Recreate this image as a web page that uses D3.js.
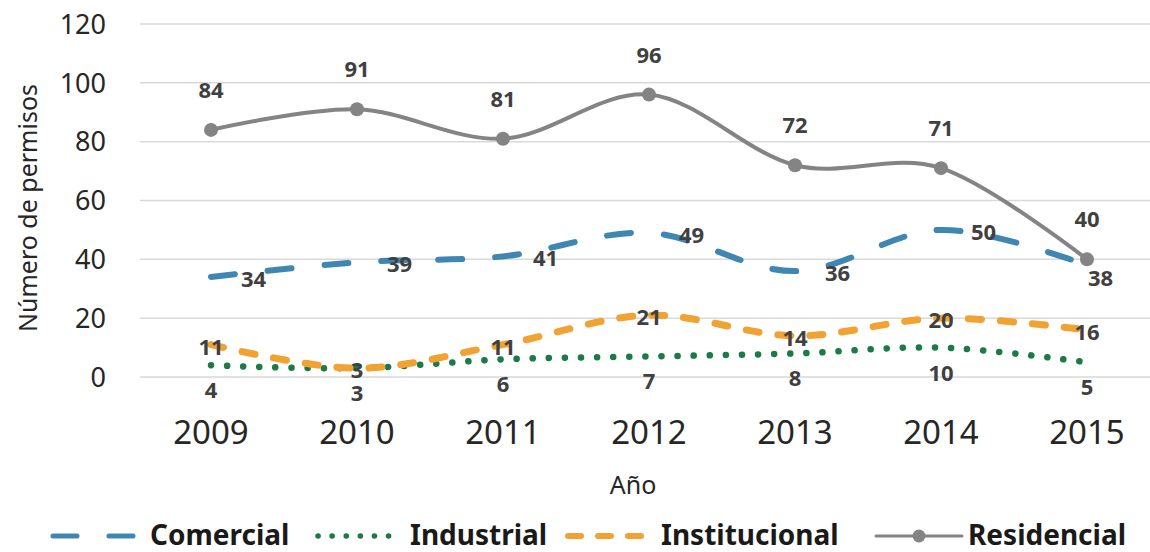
<!DOCTYPE html>
<html>
<head>
<meta charset="utf-8">
<script src="https://cdn.jsdelivr.net/npm/d3@7"></script>
<style>
  body { margin: 0; background: #fff; }
  svg { display: block; font-family: "Noto Sans", "Open Sans", sans-serif; }
</style>
</head>
<body>
<div id="chart"></div>
<script>
// data
const YEARS = ["2009", "2010", "2011", "2012", "2013", "2014", "2015"];
const COMERCIAL = [34, 39, 41, 49, 36, 50, 38];
const INDUSTRIAL = [4, 3, 6, 7, 8, 10, 5];
const INSTITUCIONAL = [11, 3, 11, 21, 14, 20, 16];
const RESIDENCIAL = [84, 91, 81, 96, 72, 71, 40];
const Y_TICKS = [0, 20, 40, 60, 80, 100, 120];

const WIDTH = 1150;
const HEIGHT = 552;

const SVG = d3.select("#chart")
  .append("svg")
    .attr("width", WIDTH)
    .attr("height", HEIGHT);

const X = d3.scalePoint()
  .domain(YEARS)
  .range([211, 1087]);

const Y = d3.scaleLinear()
  .domain([0, 120])
  .range([377, 24]);

// grid
SVG.selectAll(".grid")
  .data(Y_TICKS)
  .enter()
  .append("line")
    .attr("x1", 140)
    .attr("x2", WIDTH)
    .attr("y1", d => Y(d))
    .attr("y2", d => Y(d))
    .attr("stroke", "#d9d9d9")
    .attr("stroke-width", 1.5);

// y tick labels
SVG.selectAll(".ytick")
  .data(Y_TICKS)
  .enter()
  .append("text")
    .attr("x", 106)
    .attr("y", d => Y(d))
    .attr("dy", "0.36em")
    .attr("text-anchor", "end")
    .attr("font-size", 27)
    .attr("fill", "#262626")
    .text(d => d);

// x tick labels
SVG.selectAll(".xtick")
  .data(YEARS)
  .enter()
  .append("text")
    .attr("x", d => X(d))
    .attr("y", 444)
    .attr("text-anchor", "middle")
    .attr("font-size", 33)
    .attr("fill", "#262626")
    .text(d => d);

// axis titles
SVG.append("text")
  .attr("x", 633)
  .attr("y", 494)
  .attr("text-anchor", "middle")
  .attr("font-size", 25)
  .attr("fill", "#262626")
  .text("Año");

SVG.append("text")
  .attr("transform", "translate(37,208) rotate(-90)")
  .attr("text-anchor", "middle")
  .attr("font-size", 25)
  .attr("fill", "#262626")
  .text("Número de permisos");

const line = d3.line()
  .x((d, i) => X(YEARS[i]))
  .y(d => Y(d))
  .curve(d3.curveCatmullRom.alpha(0));

const SERIES = [
  {name: "Comercial", values: COMERCIAL, color: "#3f86b2", width: 6, dash: "24,33"},
  {name: "Industrial", values: INDUSTRIAL, color: "#1b7a46", width: 6.5, dash: "0.1,16"},
  {name: "Institucional", values: INSTITUCIONAL, color: "#f0a232", width: 7, dash: "13,19"},
  {name: "Residencial", values: RESIDENCIAL, color: "#848484", width: 4, dash: null}
];

SERIES.forEach(s => {
  SVG.append("path")
    .datum(s.values)
    .attr("d", line)
    .attr("fill", "none")
    .attr("stroke", s.color)
    .attr("stroke-width", s.width)
    .attr("stroke-linecap", "round")
    .attr("stroke-dasharray", s.dash);
});

// residencial markers
SVG.selectAll(".res-dot")
  .data(RESIDENCIAL)
  .enter()
  .append("circle")
    .attr("cx", (d, i) => X(YEARS[i]))
    .attr("cy", d => Y(d))
    .attr("r", 7)
    .attr("fill", "#848484");

// data labels
function labels(values, fx, fy, anchor) {
  SVG.selectAll(null)
    .data(values)
    .enter()
    .append("text")
      .attr("x", (d, i) => X(YEARS[i]) + fx(i))
      .attr("y", (d, i) => Y(d) + fy(i))
      .attr("dy", "0.36em")
      .attr("text-anchor", anchor)
      .attr("font-size", 22)
      .attr("font-weight", "bold")
      .attr("fill", "#404040")
      .text(d => d);
}

labels(RESIDENCIAL, () => 0, () => -40, "middle");
labels(COMERCIAL, i => i == 6 ? 1 : 30, i => i == 6 ? 13 : 2, "start");
labels(INSTITUCIONAL, () => 0, () => 2, "middle");
labels(INDUSTRIAL, () => 0, () => 25, "middle");

// legend
const LEGEND_Y = 536;
const legend = [
  {s: SERIES[0], x1: 53, x2: 137, tx: 150, dash: "24,32"},
  {s: SERIES[1], x1: 318, x2: 402, tx: 410, dash: "0.1,14"},
  {s: SERIES[2], x1: 568, x2: 652, tx: 661, dash: "13,17"},
  {s: SERIES[3], x1: 876, x2: 962, tx: 968, dash: null}
];

legend.forEach(l => {
  SVG.append("line")
    .attr("x1", l.x1)
    .attr("x2", l.x2)
    .attr("y1", LEGEND_Y)
    .attr("y2", LEGEND_Y)
    .attr("stroke", l.s.color)
    .attr("stroke-width", l.s.width - 1)
    .attr("stroke-linecap", "round")
    .attr("stroke-dasharray", l.dash);
  if (l.s.name == "Residencial") {
    SVG.append("circle")
      .attr("cx", (l.x1 + l.x2) / 2)
      .attr("cy", LEGEND_Y)
      .attr("r", 6.5)
      .attr("fill", l.s.color);
  }
  SVG.append("text")
    .attr("x", l.tx)
    .attr("y", 545)
    .attr("font-size", 28)
    .attr("font-weight", "bold")
    .attr("fill", "#1a1a1a")
    .text(l.s.name);
});
</script>
</body>
</html>
